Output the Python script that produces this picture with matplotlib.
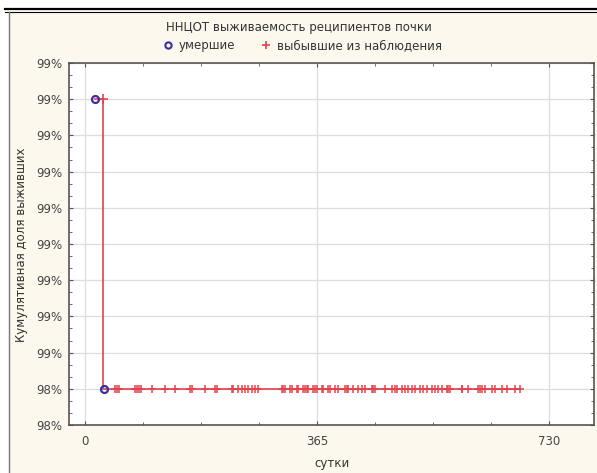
import numpy as np
import matplotlib.pyplot as plt
from matplotlib.ticker import PercentFormatter, MultipleLocator, AutoMinorLocator
from matplotlib.lines import Line2D
from matplotlib.patches import Rectangle

# survival step curve (days, cumulative proportion surviving)
curve_days = [16, 29, 684]
curve_surv = [0.9925, 0.9845, 0.9845]
# deaths (open circles)
death_days = [16, 30]
death_surv = [0.9925, 0.9845]
# censored observations (+)
cens_top_days = [29]
cens_days = [47, 50, 53, 79, 82, 85, 88, 105, 126, 142, 165, 168, 189, 205, 208,
             231, 233, 241, 247, 252, 256, 263, 267, 272, 310, 312, 315, 323, 326,
             334, 335, 343, 346, 349, 351, 359, 362, 365, 373, 374, 382, 385, 393,
             398, 409, 412, 414, 422, 430, 436, 441, 452, 453, 456, 472, 483, 488,
             491, 499, 503, 508, 514, 519, 527, 532, 538, 546, 551, 555, 562, 570,
             571, 574, 593, 594, 603, 618, 621, 625, 629, 640, 645, 656, 664, 677, 684]
cens_level = 0.9845
y_ticks = np.arange(0.9835, 0.99351, 0.001)
x_ticks = [0, 365, 730]

plt.rcParams['font.family'] = 'DejaVu Sans'
red = '#e4424d'
blue = '#3a2fa0'

fig = plt.figure(figsize=(5.97, 4.73), dpi=100, facecolor='white')
# cream panel + frame lines
fig.patches.append(Rectangle((9/597, 0), 1, 1 - 12/473, transform=fig.transFigure,
                             facecolor='#fcf8ee', edgecolor='none', zorder=-5))
fig.lines.append(Line2D([5/597, 1], [1 - 9/473, 1 - 9/473], transform=fig.transFigure,
                        color='black', linewidth=1.6))
fig.lines.append(Line2D([5/597, 1], [1 - 12.5/473, 1 - 12.5/473], transform=fig.transFigure,
                        color='black', linewidth=0.8))
fig.lines.append(Line2D([9/597, 9/597], [0, 1 - 12.5/473], transform=fig.transFigure,
                        color='#777777', linewidth=1.0))

ax = fig.add_axes([69/597, 1 - 425/473, 525/597, 362/473])
ax.set_zorder(2)
ax.set_facecolor('white')

ax.step(curve_days, curve_surv, where='post', color=red, linewidth=1.2, zorder=3)
ax.plot(cens_top_days, [curve_surv[0]] * len(cens_top_days), linestyle='none',
        marker='+', color=red, markersize=6.5, markeredgewidth=1.2, zorder=4)
ax.plot(cens_days, [cens_level] * len(cens_days), linestyle='none',
        marker='+', color=red, markersize=6, markeredgewidth=1.1, zorder=4)
ax.plot(death_days, death_surv, linestyle='none', marker='o', markersize=5,
        markerfacecolor='none', markeredgecolor=blue, markeredgewidth=1.6, zorder=5)

ax.set_xlim(-25, 801)
ax.set_ylim(y_ticks[0], y_ticks[-1])
ax.set_xticks(x_ticks)
ax.set_yticks(y_ticks)
ax.yaxis.set_major_formatter(PercentFormatter(xmax=1, decimals=0))
ax.xaxis.set_minor_locator(MultipleLocator(365 / 4))
ax.yaxis.set_minor_locator(AutoMinorLocator(3))

ax.grid(which='major', color='#dddddd', linewidth=0.9)
ax.set_axisbelow(True)
ax.tick_params(which='both', direction='in', top=True, right=True,
               colors='#555555', labelcolor='#444444', labelsize=8.5)
ax.tick_params(which='major', length=3)
ax.tick_params(which='minor', length=2)
ax.tick_params(axis='x', pad=7)
ax.tick_params(axis='y', pad=5)
for s in ax.spines.values():
    s.set_color('#555555')
    s.set_linewidth(1.2)

fig.text(0.5, 1 - 28/473, 'ННЦОТ выживаемость реципиентов почки', ha='center',
         va='center', fontsize=8.5, color='#333333')
handles = [Line2D([], [], linestyle='none', marker='o', markersize=4.5,
                  markerfacecolor='none', markeredgecolor=blue, markeredgewidth=1.5),
           Line2D([], [], linestyle='none', marker='+', markersize=6,
                  color=red, markeredgewidth=1.2)]
fig.legend(handles, ['умершие', 'выбывшие из наблюдения'], loc='center',
           bbox_to_anchor=(0.505, 1 - 46/473), ncol=2, frameon=False,
           fontsize=8.5, handletextpad=0.3, columnspacing=2.0, handlelength=1.2,
           labelcolor='#333333')
fig.text(22/597, 1 - 245/473, 'Кумулятивная доля выживших', rotation=90,
         ha='center', va='center', fontsize=8.5, color='#333333')
fig.text(332/597, 1 - 463/473, 'сутки', ha='center', va='center',
         fontsize=8.5, color='#333333')

fig.savefig('out.png', dpi=100, facecolor=fig.get_facecolor())
